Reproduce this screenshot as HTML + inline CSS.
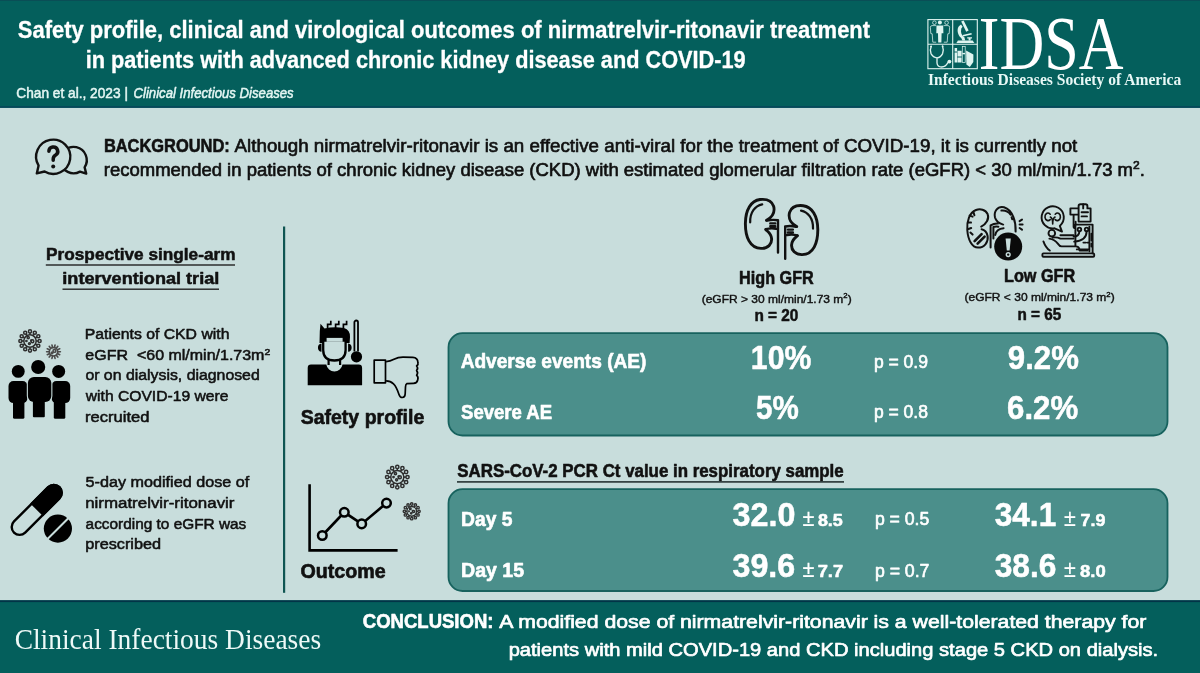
<!DOCTYPE html>
<html><head><meta charset="utf-8"><title>Nirmatrelvir-ritonavir in CKD</title>
<style>html,body{margin:0;padding:0;background:#c8dddc;overflow:hidden}svg{display:block;will-change:transform}</style></head>
<body><svg width="1200" height="673" viewBox="0 0 1200 673">
<rect x="0" y="0" width="1200" height="673" fill="#c8dddc"/>
<rect x="0" y="0" width="1200" height="107.8" fill="#045f5c"/>
<rect x="0" y="0" width="1200" height="1" fill="#0a4e56"/>
<rect x="0" y="106.1" width="1200" height="1.7" fill="#07485a"/>
<rect x="0" y="600.3" width="1200" height="73" fill="#045f5c"/>
<rect x="0" y="600.3" width="1200" height="1.8" fill="#023447"/>
<rect x="283" y="226.5" width="2.2" height="366.3" fill="#0f5552"/>
<rect x="448.5" y="333.2" width="719" height="102.3" rx="14" fill="#4b8f8b" stroke="#17625e" stroke-width="1.8"/>
<rect x="448.5" y="489.2" width="719" height="101.8" rx="14" fill="#4b8f8b" stroke="#17625e" stroke-width="1.8"/>
<text x="17.82" y="38.45" textLength="852.30" lengthAdjust="spacingAndGlyphs" style="font-family:'Liberation Sans', sans-serif;font-weight:bold;font-style:normal;font-size:23.40px;fill:#ffffff;stroke:#ffffff;stroke-width:0.30px;stroke-linejoin:round;white-space:pre" >Safety profile, clinical and virological outcomes of nirmatrelvir-ritonavir treatment</text>

<text x="85.63" y="68.45" textLength="660.02" lengthAdjust="spacingAndGlyphs" style="font-family:'Liberation Sans', sans-serif;font-weight:bold;font-style:normal;font-size:23.40px;fill:#ffffff;stroke:#ffffff;stroke-width:0.30px;stroke-linejoin:round;white-space:pre" >in patients with advanced chronic kidney disease and COVID-19</text>

<text x="16.26" y="97.64" textLength="111.71" lengthAdjust="spacingAndGlyphs" style="font-family:'Liberation Sans', sans-serif;font-weight:normal;font-style:normal;font-size:14.37px;fill:#e4f6f3;stroke:#e4f6f3;stroke-width:0.51px;stroke-linejoin:round;white-space:pre" >Chan et al., 2023 |</text>

<text x="133.53" y="97.64" textLength="160.18" lengthAdjust="spacingAndGlyphs" style="font-family:'Liberation Sans', sans-serif;font-weight:normal;font-style:italic;font-size:14.37px;fill:#e4f6f3;stroke:#e4f6f3;stroke-width:0.51px;stroke-linejoin:round;white-space:pre" >Clinical Infectious Diseases</text>

<text x="978.76" y="69.10" textLength="144.69" lengthAdjust="spacingAndGlyphs" style="font-family:'Liberation Serif', serif;font-weight:normal;font-style:normal;font-size:75.75px;fill:#ffffff;white-space:pre" >IDSA</text>

<text x="927.98" y="84.80" textLength="253.26" lengthAdjust="spacingAndGlyphs" style="font-family:'Liberation Serif', serif;font-weight:bold;font-style:normal;font-size:15.88px;fill:#e8f8f6;white-space:pre" >Infectious Diseases Society of America</text>

<text x="103.88" y="152.42" textLength="125.93" lengthAdjust="spacingAndGlyphs" style="font-family:'Liberation Sans', sans-serif;font-weight:bold;font-style:normal;font-size:17.65px;fill:#111111;stroke:#111111;stroke-width:0.55px;stroke-linejoin:round;white-space:pre" >BACKGROUND:</text>

<text x="234.58" y="152.39" textLength="842.75" lengthAdjust="spacingAndGlyphs" style="font-family:'Liberation Sans', sans-serif;font-weight:normal;font-style:normal;font-size:17.55px;fill:#111111;stroke:#111111;stroke-width:0.63px;stroke-linejoin:round;white-space:pre" >Although nirmatrelvir-ritonavir is an effective anti-viral for the treatment of COVID-19, it is currently not</text>

<text x="103.79" y="176.39" textLength="1041.09" lengthAdjust="spacingAndGlyphs" style="font-family:'Liberation Sans', sans-serif;font-weight:normal;font-style:normal;font-size:17.55px;fill:#111111;stroke:#111111;stroke-width:0.63px;stroke-linejoin:round;white-space:pre" >recommended in patients of chronic kidney disease (CKD) with estimated glomerular filtration rate (eGFR) &lt; 30 ml/min/1.73 m<tspan dy="-7.00" style="font-size:11.41px">2</tspan><tspan dy="7.00">.</tspan></text>

<text x="46.12" y="260.13" textLength="189.37" lengthAdjust="spacingAndGlyphs" style="font-family:'Liberation Sans', sans-serif;font-weight:bold;font-style:normal;font-size:17.38px;fill:#111111;stroke:#111111;stroke-width:0.55px;stroke-linejoin:round;white-space:pre" >Prospective single-arm</text>

<text x="62.31" y="284.43" textLength="157.00" lengthAdjust="spacingAndGlyphs" style="font-family:'Liberation Sans', sans-serif;font-weight:bold;font-style:normal;font-size:17.38px;fill:#111111;stroke:#111111;stroke-width:0.55px;stroke-linejoin:round;white-space:pre" >interventional trial</text>

<rect x="45.8" y="264.3" width="189.2" height="1.4" fill="#222"/>
<rect x="62.5" y="288.5" width="156.5" height="1.4" fill="#222"/>
<text x="84.78" y="338.63" textLength="144.68" lengthAdjust="spacingAndGlyphs" style="font-family:'Liberation Sans', sans-serif;font-weight:normal;font-style:normal;font-size:15.06px;fill:#111111;stroke:#111111;stroke-width:0.54px;stroke-linejoin:round;white-space:pre" >Patients of CKD with</text>

<text x="85.39" y="359.53" textLength="184.86" lengthAdjust="spacingAndGlyphs" style="font-family:'Liberation Sans', sans-serif;font-weight:normal;font-style:normal;font-size:15.06px;fill:#111111;stroke:#111111;stroke-width:0.54px;stroke-linejoin:round;white-space:pre" >eGFR  &lt;60 ml/min/1.73m<tspan dy="-5.00" style="font-size:9.79px">2</tspan></text>

<text x="85.40" y="380.43" textLength="174.35" lengthAdjust="spacingAndGlyphs" style="font-family:'Liberation Sans', sans-serif;font-weight:normal;font-style:normal;font-size:15.06px;fill:#111111;stroke:#111111;stroke-width:0.54px;stroke-linejoin:round;white-space:pre" >or on dialysis, diagnosed</text>

<text x="85.79" y="401.23" textLength="142.63" lengthAdjust="spacingAndGlyphs" style="font-family:'Liberation Sans', sans-serif;font-weight:normal;font-style:normal;font-size:15.06px;fill:#111111;stroke:#111111;stroke-width:0.54px;stroke-linejoin:round;white-space:pre" >with COVID-19 were</text>

<text x="85.07" y="422.03" textLength="64.43" lengthAdjust="spacingAndGlyphs" style="font-family:'Liberation Sans', sans-serif;font-weight:normal;font-style:normal;font-size:15.06px;fill:#111111;stroke:#111111;stroke-width:0.54px;stroke-linejoin:round;white-space:pre" >recruited</text>

<text x="85.62" y="487.13" textLength="163.59" lengthAdjust="spacingAndGlyphs" style="font-family:'Liberation Sans', sans-serif;font-weight:normal;font-style:normal;font-size:15.06px;fill:#111111;stroke:#111111;stroke-width:0.54px;stroke-linejoin:round;white-space:pre" >5-day modified dose of</text>

<text x="85.15" y="507.83" textLength="149.36" lengthAdjust="spacingAndGlyphs" style="font-family:'Liberation Sans', sans-serif;font-weight:normal;font-style:normal;font-size:15.06px;fill:#111111;stroke:#111111;stroke-width:0.54px;stroke-linejoin:round;white-space:pre" >nirmatrelvir-ritonavir</text>

<text x="85.62" y="528.63" textLength="160.67" lengthAdjust="spacingAndGlyphs" style="font-family:'Liberation Sans', sans-serif;font-weight:normal;font-style:normal;font-size:15.06px;fill:#111111;stroke:#111111;stroke-width:0.54px;stroke-linejoin:round;white-space:pre" >according to eGFR was</text>

<text x="85.22" y="549.43" textLength="75.86" lengthAdjust="spacingAndGlyphs" style="font-family:'Liberation Sans', sans-serif;font-weight:normal;font-style:normal;font-size:15.06px;fill:#111111;stroke:#111111;stroke-width:0.54px;stroke-linejoin:round;white-space:pre" >prescribed</text>

<text x="300.66" y="423.98" textLength="123.59" lengthAdjust="spacingAndGlyphs" style="font-family:'Liberation Sans', sans-serif;font-weight:bold;font-style:normal;font-size:20.43px;fill:#111111;stroke:#111111;stroke-width:0.64px;stroke-linejoin:round;white-space:pre" >Safety profile</text>

<text x="300.51" y="578.18" textLength="85.24" lengthAdjust="spacingAndGlyphs" style="font-family:'Liberation Sans', sans-serif;font-weight:bold;font-style:normal;font-size:20.43px;fill:#111111;stroke:#111111;stroke-width:0.64px;stroke-linejoin:round;white-space:pre" >Outcome</text>

<text x="739.10" y="283.62" textLength="74.65" lengthAdjust="spacingAndGlyphs" style="font-family:'Liberation Sans', sans-serif;font-weight:bold;font-style:normal;font-size:17.93px;fill:#111111;stroke:#111111;stroke-width:0.56px;stroke-linejoin:round;white-space:pre" >High GFR</text>

<text x="1003.99" y="282.02" textLength="71.26" lengthAdjust="spacingAndGlyphs" style="font-family:'Liberation Sans', sans-serif;font-weight:bold;font-style:normal;font-size:17.93px;fill:#111111;stroke:#111111;stroke-width:0.56px;stroke-linejoin:round;white-space:pre" >Low GFR</text>

<text x="701.66" y="302.89" textLength="150.07" lengthAdjust="spacingAndGlyphs" style="font-family:'Liberation Sans', sans-serif;font-weight:normal;font-style:normal;font-size:11.61px;fill:#111111;stroke:#111111;stroke-width:0.42px;stroke-linejoin:round;white-space:pre" >(eGFR &gt; 30 ml/min/1.73 m<tspan dy="-4.50" style="font-size:7.54px">2</tspan><tspan dy="4.50">)</tspan></text>

<text x="964.46" y="301.29" textLength="150.28" lengthAdjust="spacingAndGlyphs" style="font-family:'Liberation Sans', sans-serif;font-weight:normal;font-style:normal;font-size:11.61px;fill:#111111;stroke:#111111;stroke-width:0.42px;stroke-linejoin:round;white-space:pre" >(eGFR &lt; 30 ml/min/1.73 m<tspan dy="-4.50" style="font-size:7.54px">2</tspan><tspan dy="4.50">)</tspan></text>

<text x="754.44" y="321.35" textLength="43.94" lengthAdjust="spacingAndGlyphs" style="font-family:'Liberation Sans', sans-serif;font-weight:bold;font-style:normal;font-size:15.85px;fill:#111111;stroke:#111111;stroke-width:0.50px;stroke-linejoin:round;white-space:pre" >n = 20</text>

<text x="1017.44" y="319.85" textLength="43.74" lengthAdjust="spacingAndGlyphs" style="font-family:'Liberation Sans', sans-serif;font-weight:bold;font-style:normal;font-size:15.85px;fill:#111111;stroke:#111111;stroke-width:0.50px;stroke-linejoin:round;white-space:pre" >n = 65</text>

<text x="460.64" y="368.19" textLength="185.80" lengthAdjust="spacingAndGlyphs" style="font-family:'Liberation Sans', sans-serif;font-weight:bold;font-style:normal;font-size:19.88px;fill:#ffffff;stroke:#ffffff;stroke-width:0.62px;stroke-linejoin:round;white-space:pre" >Adverse events (AE)</text>

<text x="461.08" y="419.09" textLength="91.03" lengthAdjust="spacingAndGlyphs" style="font-family:'Liberation Sans', sans-serif;font-weight:bold;font-style:normal;font-size:19.88px;fill:#ffffff;stroke:#ffffff;stroke-width:0.62px;stroke-linejoin:round;white-space:pre" >Severe AE</text>

<text x="750.85" y="368.55" textLength="60.50" lengthAdjust="spacingAndGlyphs" style="font-family:'Liberation Sans', sans-serif;font-weight:bold;font-style:normal;font-size:32.56px;fill:#ffffff;stroke:#ffffff;stroke-width:0.50px;stroke-linejoin:round;white-space:pre" >10%</text>

<text x="756.04" y="419.15" textLength="42.79" lengthAdjust="spacingAndGlyphs" style="font-family:'Liberation Sans', sans-serif;font-weight:bold;font-style:normal;font-size:32.56px;fill:#ffffff;stroke:#ffffff;stroke-width:0.50px;stroke-linejoin:round;white-space:pre" >5%</text>

<text x="1007.87" y="368.55" textLength="71.00" lengthAdjust="spacingAndGlyphs" style="font-family:'Liberation Sans', sans-serif;font-weight:bold;font-style:normal;font-size:32.56px;fill:#ffffff;stroke:#ffffff;stroke-width:0.50px;stroke-linejoin:round;white-space:pre" >9.2%</text>

<text x="1007.11" y="419.35" textLength="71.06" lengthAdjust="spacingAndGlyphs" style="font-family:'Liberation Sans', sans-serif;font-weight:bold;font-style:normal;font-size:32.56px;fill:#ffffff;stroke:#ffffff;stroke-width:0.50px;stroke-linejoin:round;white-space:pre" >6.2%</text>

<text x="873.89" y="368.38" textLength="54.12" lengthAdjust="spacingAndGlyphs" style="font-family:'Liberation Sans', sans-serif;font-weight:normal;font-style:normal;font-size:17.96px;fill:#ffffff;stroke:#ffffff;stroke-width:0.64px;stroke-linejoin:round;white-space:pre" >p = 0.9</text>

<text x="873.89" y="418.48" textLength="54.05" lengthAdjust="spacingAndGlyphs" style="font-family:'Liberation Sans', sans-serif;font-weight:normal;font-style:normal;font-size:17.96px;fill:#ffffff;stroke:#ffffff;stroke-width:0.64px;stroke-linejoin:round;white-space:pre" >p = 0.8</text>

<text x="457.30" y="477.32" textLength="386.39" lengthAdjust="spacingAndGlyphs" style="font-family:'Liberation Sans', sans-serif;font-weight:bold;font-style:normal;font-size:18.07px;fill:#111111;stroke:#111111;stroke-width:0.57px;stroke-linejoin:round;white-space:pre" >SARS-CoV-2 PCR Ct value in respiratory sample</text>

<rect x="457" y="481.1" width="387" height="1.6" fill="#263333"/>
<text x="461.02" y="525.79" textLength="51.40" lengthAdjust="spacingAndGlyphs" style="font-family:'Liberation Sans', sans-serif;font-weight:bold;font-style:normal;font-size:19.88px;fill:#ffffff;stroke:#ffffff;stroke-width:0.62px;stroke-linejoin:round;white-space:pre" >Day 5</text>

<text x="461.00" y="577.09" textLength="63.13" lengthAdjust="spacingAndGlyphs" style="font-family:'Liberation Sans', sans-serif;font-weight:bold;font-style:normal;font-size:19.88px;fill:#ffffff;stroke:#ffffff;stroke-width:0.62px;stroke-linejoin:round;white-space:pre" >Day 15</text>

<text x="732.51" y="525.85" textLength="62.87" lengthAdjust="spacingAndGlyphs" style="font-family:'Liberation Sans', sans-serif;font-weight:bold;font-style:normal;font-size:32.56px;fill:#ffffff;stroke:#ffffff;stroke-width:0.50px;stroke-linejoin:round;white-space:pre" >32.0</text>

<text x="732.51" y="577.25" textLength="62.70" lengthAdjust="spacingAndGlyphs" style="font-family:'Liberation Sans', sans-serif;font-weight:bold;font-style:normal;font-size:32.56px;fill:#ffffff;stroke:#ffffff;stroke-width:0.50px;stroke-linejoin:round;white-space:pre" >39.6</text>

<text x="994.72" y="525.85" textLength="61.50" lengthAdjust="spacingAndGlyphs" style="font-family:'Liberation Sans', sans-serif;font-weight:bold;font-style:normal;font-size:32.56px;fill:#ffffff;stroke:#ffffff;stroke-width:0.50px;stroke-linejoin:round;white-space:pre" >34.1</text>

<text x="994.72" y="576.75" textLength="61.78" lengthAdjust="spacingAndGlyphs" style="font-family:'Liberation Sans', sans-serif;font-weight:bold;font-style:normal;font-size:32.56px;fill:#ffffff;stroke:#ffffff;stroke-width:0.50px;stroke-linejoin:round;white-space:pre" >38.6</text>

<text x="802.41" y="525.70" textLength="11.97" lengthAdjust="spacingAndGlyphs" style="font-family:'Liberation Sans', sans-serif;font-weight:normal;font-style:normal;font-size:24.21px;fill:#ffffff;stroke:#ffffff;stroke-width:0.20px;stroke-linejoin:round;white-space:pre" >±</text>

<text x="817.90" y="525.53" textLength="24.93" lengthAdjust="spacingAndGlyphs" style="font-family:'Liberation Sans', sans-serif;font-weight:bold;font-style:normal;font-size:17.24px;fill:#ffffff;stroke:#ffffff;stroke-width:0.54px;stroke-linejoin:round;white-space:pre" >8.5</text>

<text x="802.41" y="577.10" textLength="11.97" lengthAdjust="spacingAndGlyphs" style="font-family:'Liberation Sans', sans-serif;font-weight:normal;font-style:normal;font-size:24.21px;fill:#ffffff;stroke:#ffffff;stroke-width:0.20px;stroke-linejoin:round;white-space:pre" >±</text>

<text x="817.68" y="576.93" textLength="25.45" lengthAdjust="spacingAndGlyphs" style="font-family:'Liberation Sans', sans-serif;font-weight:bold;font-style:normal;font-size:17.24px;fill:#ffffff;stroke:#ffffff;stroke-width:0.54px;stroke-linejoin:round;white-space:pre" >7.7</text>

<text x="1064.12" y="525.70" textLength="11.75" lengthAdjust="spacingAndGlyphs" style="font-family:'Liberation Sans', sans-serif;font-weight:normal;font-style:normal;font-size:24.21px;fill:#ffffff;stroke:#ffffff;stroke-width:0.20px;stroke-linejoin:round;white-space:pre" >±</text>

<text x="1080.50" y="525.53" textLength="24.89" lengthAdjust="spacingAndGlyphs" style="font-family:'Liberation Sans', sans-serif;font-weight:bold;font-style:normal;font-size:17.24px;fill:#ffffff;stroke:#ffffff;stroke-width:0.54px;stroke-linejoin:round;white-space:pre" >7.9</text>

<text x="1064.12" y="576.90" textLength="11.75" lengthAdjust="spacingAndGlyphs" style="font-family:'Liberation Sans', sans-serif;font-weight:normal;font-style:normal;font-size:24.21px;fill:#ffffff;stroke:#ffffff;stroke-width:0.20px;stroke-linejoin:round;white-space:pre" >±</text>

<text x="1079.98" y="576.73" textLength="25.70" lengthAdjust="spacingAndGlyphs" style="font-family:'Liberation Sans', sans-serif;font-weight:bold;font-style:normal;font-size:17.24px;fill:#ffffff;stroke:#ffffff;stroke-width:0.54px;stroke-linejoin:round;white-space:pre" >8.0</text>

<text x="874.88" y="525.28" textLength="54.44" lengthAdjust="spacingAndGlyphs" style="font-family:'Liberation Sans', sans-serif;font-weight:normal;font-style:normal;font-size:17.96px;fill:#ffffff;stroke:#ffffff;stroke-width:0.64px;stroke-linejoin:round;white-space:pre" >p = 0.5</text>

<text x="874.88" y="576.58" textLength="54.59" lengthAdjust="spacingAndGlyphs" style="font-family:'Liberation Sans', sans-serif;font-weight:normal;font-style:normal;font-size:17.96px;fill:#ffffff;stroke:#ffffff;stroke-width:0.64px;stroke-linejoin:round;white-space:pre" >p = 0.7</text>

<text x="14.67" y="649.00" textLength="306.52" lengthAdjust="spacingAndGlyphs" style="font-family:'Liberation Serif', serif;font-weight:normal;font-style:normal;font-size:28.86px;fill:#eef9f7;white-space:pre" >Clinical Infectious Diseases</text>

<text x="362.84" y="628.45" textLength="130.63" lengthAdjust="spacingAndGlyphs" style="font-family:'Liberation Sans', sans-serif;font-weight:bold;font-style:normal;font-size:19.32px;fill:#ffffff;stroke:#ffffff;stroke-width:0.61px;stroke-linejoin:round;white-space:pre" >CONCLUSION:</text>

<text x="499.30" y="628.41" textLength="647.11" lengthAdjust="spacingAndGlyphs" style="font-family:'Liberation Sans', sans-serif;font-weight:normal;font-style:normal;font-size:19.21px;fill:#ffffff;stroke:#ffffff;stroke-width:0.69px;stroke-linejoin:round;white-space:pre" >A modified dose of nirmatrelvir-ritonavir is a well-tolerated therapy for</text>

<text x="508.65" y="655.96" textLength="649.55" lengthAdjust="spacingAndGlyphs" style="font-family:'Liberation Sans', sans-serif;font-weight:normal;font-style:normal;font-size:19.21px;fill:#ffffff;stroke:#ffffff;stroke-width:0.69px;stroke-linejoin:round;white-space:pre" >patients with mild COVID-19 and CKD including stage 5 CKD on dialysis.</text>

<g fill="none" stroke="#111" stroke-width="2.4" stroke-linejoin="round" stroke-linecap="round">
<path d="M84.6 167.3 A13.2 13.2 0 1 0 80.0 171.6 L86.2 173.6 Z" fill="#c8dddc"/>
<path d="M38.6 165.6 A17.1 17.1 0 1 1 44.6 171.5 L36.8 173.4 Z" fill="#c8dddc"/>
<path d="M48.9 151.3 A4.4 4.4 0 1 1 55.4 155.2 Q53.2 156.6 53.2 159.2 V160.3" stroke-width="3.5"/>
</g><circle cx="53.2" cy="166.4" r="2" fill="#111"/>
<g fill="none" stroke="#2e2e2e" stroke-width="1.50"><circle cx="30.00" cy="341.00" r="6.19"/><line x1="36.19" y1="341.00" x2="38.06" y2="341.00"/><circle cx="39.60" cy="341.00" r="1.55"/><line x1="35.36" y1="344.09" x2="36.98" y2="345.03"/><circle cx="38.32" cy="345.80" r="1.55"/><line x1="33.09" y1="346.36" x2="34.03" y2="347.98"/><circle cx="34.80" cy="349.32" r="1.55"/><line x1="30.00" y1="347.19" x2="30.00" y2="349.06"/><circle cx="30.00" cy="350.60" r="1.55"/><line x1="26.91" y1="346.36" x2="25.97" y2="347.98"/><circle cx="25.20" cy="349.32" r="1.55"/><line x1="24.64" y1="344.09" x2="23.02" y2="345.03"/><circle cx="21.68" cy="345.80" r="1.55"/><line x1="23.81" y1="341.00" x2="21.94" y2="341.00"/><circle cx="20.40" cy="341.00" r="1.55"/><line x1="24.64" y1="337.91" x2="23.02" y2="336.97"/><circle cx="21.68" cy="336.20" r="1.55"/><line x1="26.91" y1="335.64" x2="25.97" y2="334.02"/><circle cx="25.20" cy="332.68" r="1.55"/><line x1="30.00" y1="334.81" x2="30.00" y2="332.94"/><circle cx="30.00" cy="331.40" r="1.55"/><line x1="33.09" y1="335.64" x2="34.03" y2="334.02"/><circle cx="34.80" cy="332.68" r="1.55"/><line x1="35.36" y1="337.91" x2="36.98" y2="336.97"/><circle cx="38.32" cy="336.20" r="1.55"/><circle cx="28.21" cy="337.67" r="1.07"/><circle cx="32.38" cy="341.24" r="1.43"/><circle cx="29.41" cy="343.62" r="0.95"/><circle cx="26.43" cy="341.00" r="0.60"/><circle cx="31.19" cy="340.40" r="0.48"/></g>
<g fill="none" stroke="#4a4a4a" stroke-width="1.60" stroke-linecap="round"><circle cx="53.50" cy="351.70" r="4.24"/><line x1="57.73" y1="351.70" x2="60.40" y2="351.70"/><line x1="57.32" y1="353.54" x2="59.72" y2="354.69"/><line x1="56.14" y1="355.01" x2="57.80" y2="357.09"/><line x1="54.44" y1="355.83" x2="55.04" y2="358.43"/><line x1="52.56" y1="355.83" x2="51.96" y2="358.43"/><line x1="50.86" y1="355.01" x2="49.20" y2="357.09"/><line x1="49.68" y1="353.54" x2="47.28" y2="354.69"/><line x1="49.27" y1="351.70" x2="46.60" y2="351.70"/><line x1="49.68" y1="349.86" x2="47.28" y2="348.71"/><line x1="50.86" y1="348.39" x2="49.20" y2="346.31"/><line x1="52.56" y1="347.57" x2="51.96" y2="344.97"/><line x1="54.44" y1="347.57" x2="55.04" y2="344.97"/><line x1="56.14" y1="348.39" x2="57.80" y2="346.31"/><line x1="57.32" y1="349.86" x2="59.72" y2="348.71"/><circle cx="54.42" cy="350.93" r="1.39"/><circle cx="52.11" cy="352.85" r="0.77"/></g>
<g fill="#000">
<circle cx="18.25" cy="371.4" r="6.45"/><circle cx="58.65" cy="371.4" r="6.5"/>
<rect x="8.5" y="381.1" width="19" height="22" rx="5"/><rect x="13" y="395" width="11.4" height="23.7" rx="1.5"/>
<rect x="51.5" y="381.1" width="18.7" height="22" rx="5"/><rect x="53.8" y="395" width="11.5" height="23.7" rx="1.5"/>
<g stroke="#c8dddc" stroke-width="2.2"><rect x="27.9" y="377.1" width="23.4" height="24.9" rx="6"/></g>
<rect x="27.9" y="377.1" width="23.4" height="24.9" rx="6"/>
<rect x="32.9" y="396" width="11.9" height="21.3" rx="1"/>
<circle cx="38.2" cy="367" r="7.05"/>
</g>
<g transform="translate(36.7,509.9) rotate(-45)">
<rect x="-32.1" y="-7.9" width="64.2" height="15.8" rx="7.9" fill="none" stroke="#000" stroke-width="2.4"/>
<path d="M0 -9.1 H24.2 A9.1 9.1 0 0 1 24.2 9.1 H0 Z" fill="#000"/>
</g>
<circle cx="57.9" cy="528.6" r="14.1" fill="#000"/>
<line x1="47.0" y1="539.5" x2="68.8" y2="517.7" stroke="#c8dddc" stroke-width="2"/>
<g>
<path d="M307.7 368 Q307.7 364.6 311 364.6 H326.3 A8.2 8.2 0 0 0 342.5 364.6 H358.8 Q362.1 364.6 362.1 368 V385.2 H307.7 Z" fill="#000"/>
<path d="M328.6 359 V365 M340.1 359 V365" stroke="#000" stroke-width="2.2" fill="none"/>
<path d="M323.2 340 V350 Q323.2 360.5 334.4 360.5 Q345.6 360.5 345.6 350 V340" fill="none" stroke="#000" stroke-width="2.3"/>
<path d="M321.5 343.5 A4.2 4.2 0 0 0 321.5 351.8 Z M348.1 343.5 A4.2 4.2 0 0 1 348.1 351.8 Z" fill="#000"/>
<path d="M319.5 343 L319.8 331 L320.5 323.8 L324.5 328.5 Q334 326.5 344 328 Q350.3 330 350 337 L349.6 343 L346 343 L345.8 341.8 H323.2 V343 Z" fill="#000"/>
<rect x="326.6" y="337.9" width="16" height="3.9" fill="#c8dddc"/>
<path d="M327.6 328.2 V324.3 H330.8 V320.8 M335.6 328.2 V324.3 H338.8 V320.8 M343.4 328.2 V324.3 H346.6 V320.8" fill="none" stroke="#000" stroke-width="1.7"/>
<path d="M354.4 351.5 V322.3 A1.8 1.8 0 0 1 358.0 322.3 V351.5" fill="none" stroke="#000" stroke-width="1.8"/>
<circle cx="356.5" cy="356.8" r="5.6" fill="#000"/>
</g>
<g fill="none" stroke="#000" stroke-width="1.7" stroke-linejoin="round">
<rect x="374.2" y="360.1" width="11.3" height="22.7" fill="#c8dddc"/>
<path d="M386.1 361.6 Q390 361.5 394 359.3 Q398 357.2 403 357.2 L412.8 357.3 Q417.8 357.6 417.9 362.5 Q418.6 364.5 416.6 366 Q418.6 368 416.6 370.6 Q418.6 372.8 416.6 375.2 Q418.7 377 417.7 380 Q417 383.2 413.5 383.3 L407 383.6 Q405.6 384.3 405.5 386.8 L405.2 393.6 Q405 397.4 402.3 397.5 Q400 397.5 399 394.4 Q396.4 386.5 393.5 383.8 Q390.5 380.9 386.1 380.9"/>
</g>
<g fill="none" stroke="#000" stroke-width="2.6" stroke-linecap="round">
<path d="M309.6 484.2 V550.4 H397.6" stroke-linecap="butt"/>
<path d="M322.3 535.5 L344.3 512.3 L361.7 523.9 L386.5 503.1"/>
</g>
<g fill="#c8dddc" stroke="#000" stroke-width="2.5">
<circle cx="322.3" cy="535.5" r="4.3"/><circle cx="344.3" cy="512.3" r="4.3"/><circle cx="361.7" cy="523.9" r="4.3"/><circle cx="386.5" cy="503.1" r="4.3"/>
</g>
<g fill="none" stroke="#2e2e2e" stroke-width="1.50"><circle cx="397.30" cy="477.10" r="6.55"/><line x1="403.85" y1="477.10" x2="405.87" y2="477.10"/><circle cx="407.51" cy="477.10" r="1.64"/><line x1="402.97" y1="480.38" x2="404.73" y2="481.39"/><circle cx="406.14" cy="482.21" r="1.64"/><line x1="400.58" y1="482.77" x2="401.59" y2="484.53"/><circle cx="402.41" cy="485.94" r="1.64"/><line x1="397.30" y1="483.65" x2="397.30" y2="485.67"/><circle cx="397.30" cy="487.31" r="1.64"/><line x1="394.02" y1="482.77" x2="393.01" y2="484.53"/><circle cx="392.19" cy="485.94" r="1.64"/><line x1="391.63" y1="480.38" x2="389.87" y2="481.39"/><circle cx="388.46" cy="482.21" r="1.64"/><line x1="390.75" y1="477.10" x2="388.73" y2="477.10"/><circle cx="387.09" cy="477.10" r="1.64"/><line x1="391.63" y1="473.82" x2="389.87" y2="472.81"/><circle cx="388.46" cy="471.99" r="1.64"/><line x1="394.02" y1="471.43" x2="393.01" y2="469.67"/><circle cx="392.19" cy="468.26" r="1.64"/><line x1="397.30" y1="470.55" x2="397.30" y2="468.53"/><circle cx="397.30" cy="466.89" r="1.64"/><line x1="400.58" y1="471.43" x2="401.59" y2="469.67"/><circle cx="402.41" cy="468.26" r="1.64"/><line x1="402.97" y1="473.82" x2="404.73" y2="472.81"/><circle cx="406.14" cy="471.99" r="1.64"/><circle cx="395.41" cy="473.57" r="1.13"/><circle cx="399.82" cy="477.35" r="1.51"/><circle cx="396.67" cy="479.87" r="1.01"/><circle cx="393.52" cy="477.10" r="0.63"/><circle cx="398.56" cy="476.47" r="0.50"/></g>
<g fill="none" stroke="#2e2e2e" stroke-width="1.35"><circle cx="411.70" cy="511.30" r="4.78"/><line x1="416.48" y1="511.30" x2="417.83" y2="511.30"/><circle cx="419.03" cy="511.30" r="1.20"/><line x1="415.84" y1="513.69" x2="417.01" y2="514.37"/><circle cx="418.05" cy="514.96" r="1.20"/><line x1="414.09" y1="515.44" x2="414.77" y2="516.61"/><circle cx="415.36" cy="517.65" r="1.20"/><line x1="411.70" y1="516.08" x2="411.70" y2="517.43"/><circle cx="411.70" cy="518.63" r="1.20"/><line x1="409.31" y1="515.44" x2="408.63" y2="516.61"/><circle cx="408.04" cy="517.65" r="1.20"/><line x1="407.56" y1="513.69" x2="406.39" y2="514.37"/><circle cx="405.35" cy="514.96" r="1.20"/><line x1="406.92" y1="511.30" x2="405.57" y2="511.30"/><circle cx="404.37" cy="511.30" r="1.20"/><line x1="407.56" y1="508.91" x2="406.39" y2="508.23"/><circle cx="405.35" cy="507.64" r="1.20"/><line x1="409.31" y1="507.16" x2="408.63" y2="505.99"/><circle cx="408.04" cy="504.95" r="1.20"/><line x1="411.70" y1="506.52" x2="411.70" y2="505.17"/><circle cx="411.70" cy="503.97" r="1.20"/><line x1="414.09" y1="507.16" x2="414.77" y2="505.99"/><circle cx="415.36" cy="504.95" r="1.20"/><line x1="415.84" y1="508.91" x2="417.01" y2="508.23"/><circle cx="418.05" cy="507.64" r="1.20"/><circle cx="410.32" cy="508.72" r="0.83"/><circle cx="413.54" cy="511.48" r="1.10"/><circle cx="411.24" cy="513.32" r="0.74"/><circle cx="408.94" cy="511.30" r="0.46"/><circle cx="412.62" cy="510.84" r="0.37"/></g>
<g fill="none" stroke="#111" stroke-width="2.9" stroke-linecap="round" stroke-linejoin="round"><path d="M766.5 220.3 C771 218, 775.5 213, 773.6 206.2 C771.6 200.2, 765.5 198.9, 760 199.5 C751 200.6, 745.6 210, 745.4 223 C745.2 237, 750 248.3, 761 248.4 C768 248.6, 772 244, 771.6 238.6 C771.2 233.6, 767.8 231.5, 765.8 229.6"/>
<path d="M767.2 220.6 Q772.5 219.3 778 220.3 M765.8 229.2 Q771 227.8 776 228.8 M770.3 223.4 H775.2 M770.3 226.2 H775.2 M778 220.3 V252.6" stroke-width="2.4"/>
<path d="M750.2 222.4 C749.8 212.5, 755 205.8, 762.2 204.4" stroke-width="2.2"/></g>
<g fill="none" stroke="#111" stroke-width="2.9" stroke-linecap="round" stroke-linejoin="round" transform="translate(1563.2,6.2) scale(-1,1)"><path d="M766.5 220.3 C771 218, 775.5 213, 773.6 206.2 C771.6 200.2, 765.5 198.9, 760 199.5 C751 200.6, 745.6 210, 745.4 223 C745.2 237, 750 248.3, 761 248.4 C768 248.6, 772 244, 771.6 238.6 C771.2 233.6, 767.8 231.5, 765.8 229.6"/>
<path d="M767.2 220.6 Q772.5 219.3 778 220.3 M765.8 229.2 Q771 227.8 776 228.8 M770.3 223.4 H775.2 M770.3 226.2 H775.2 M778 220.3 V252.6" stroke-width="2.4"/>
<path d="M750.2 222.4 C749.8 212.5, 755 205.8, 762.2 204.4" stroke-width="2.2"/></g>
<g fill="none" stroke="#111" stroke-width="2" stroke-linecap="round" stroke-linejoin="round">
<path d="M981.2 226.6 C986 224.2, 989.6 219, 987.6 214 C985.6 209.4, 980 208.4, 976 210 C969.5 212.6, 966.6 221, 967.3 230 C968 240, 972 247.6, 978 247.6 C984.5 247.6, 988.6 242, 987.6 236 C986.8 231.5, 983.6 229.6, 981.6 229.2"/>
<path d="M1015.6 231.6 C1016 222, 1013 210, 1004 207.2 C997.4 205.6, 993.6 212, 995 217.6 C996 221.2, 999 223.6, 1003.2 224.6 M1003.6 228.2 C999 228.6, 996 231, 995.2 235"/>
<path d="M990.6 225.4 V247.6 M993.4 227 V238.6 M990.6 225.4 Q994 223.4 997.8 223.6 M993.4 227 Q996 226.2 998.4 226.8"/>
<path d="M1001.4 210.6 Q1007.4 210 1010.6 214.6 M1011.6 217.2 L1012.2 219.2"/>
<path d="M1019.6 221.2 L1022 219.6 M1019.6 224.6 H1022.6 M1019.6 228 L1022 229.6"/>
<path d="M969.6 215.6 L972.6 216.6 M968.2 222.4 L971 222.6 M968.4 229 L971.2 228 M970.4 232.6 L972.6 234.6 M973.6 212.6 L974.4 215.2"/>
<path d="M974.6 241.2 L981.6 234.2 M977.6 243.6 L984.6 236.6" stroke-width="2.6"/>
</g>
<circle cx="1008.2" cy="246.6" r="14" fill="#0a0a0a"/>
<path d="M1005.6 238.4 H1010.8 L1009.6 250.4 H1006.8 Z" fill="#c8dddc"/>
<circle cx="1008.2" cy="254.6" r="1.9" fill="none" stroke="#c8dddc" stroke-width="1.4"/>
<g fill="none" stroke="#111" stroke-width="1.9" stroke-linecap="round" stroke-linejoin="round">
<path d="M1054.6 228.3 A11.1 11.1 0 1 1 1059.8 225.9 L1062 231.6 Z"/>
<path d="M1050.2 214.2 C1047.6 211.6, 1044.6 213.8, 1045 217.4 C1045.4 220.6, 1048.4 221.4, 1050.2 219.6 M1055.2 214.2 C1057.8 211.6, 1060.8 213.8, 1060.4 217.4 C1060 220.6, 1057 221.4, 1055.2 219.6 M1050.4 217 Q1052.7 218 1052.7 224 M1055 217 Q1052.7 218 1052.7 224" stroke-width="1.6"/>
<circle cx="1051.8" cy="233.2" r="3.3"/>
<path d="M1049.4 238.6 Q1054.6 239.4 1057.6 243.4 Q1059.6 246.4 1061.6 246.4 M1043.4 241.4 Q1045.6 247.6 1049.8 250.6 M1052.6 237.6 Q1056.8 236.8 1060.4 238.6 L1073.6 238.6 M1060.4 235.2 H1073.6 M1061.6 246.4 H1075.8 Q1078.6 246.4 1079.2 248.6 L1079.6 250.6 H1087.6"/>
<path d="M1070.4 208.4 H1078.6 V206 Q1078.6 204.2 1080.4 204.2 H1085.6 Q1087.4 204.2 1087.4 206 V208.4 H1090.6 V221.6 H1078.6 V208.4 M1070.4 208.4 V214.6 H1078.6 M1081.6 212.2 H1088 M1081.6 216.4 H1087 M1073.6 214.6 V226.4 Q1073.6 228.2 1075.4 228.2 M1075.4 224.6 H1092.6 V253.4 M1075.4 224.6 V245.6"/>
<path d="M1079.4 231.4 Q1079.2 236.4 1073.6 236.6 M1086.6 231.4 Q1086.6 240.6 1074.2 241.6 M1083.4 242.6 H1085.6 M1087.2 242.6 H1089.2 M1091.4 233.6 V240.6 M1091.4 243.6 V246.6"/>
<circle cx="1079.4" cy="229.4" r="1.8"/><circle cx="1086.6" cy="229.4" r="1.8"/>
<rect x="1042.4" y="253.4" width="51.8" height="3.4" rx="1"/>
<path d="M1089.4 226.6 V251.4 M1076.8 249.4 H1089.4 M1083.2 204.2 V208.4 M1075.6 221.6 V224.6"/>
</g>
<g fill="none" stroke="#dff4f0" stroke-width="1.1">
<rect x="927.9" y="19.6" width="49.4" height="49.1"/>
<path d="M952.7 19.6 V68.7 M927.9 44.3 H977.3"/>
</g>
<g fill="none" stroke="#dff4f0" stroke-width="0.75">
<circle cx="934.4" cy="22.7" r="1.8"/><circle cx="946.6" cy="22.7" r="1.8"/>
<path d="M936.2 25.6 H932 Q930.4 25.6 930.4 27.4 L930.8 33.6 L932.2 33.8 L932.8 42.2 H936.2 M943.6 25.6 H948 Q949.6 25.6 949.6 27.4 L949.2 33.6 L947.8 33.8 L947.2 42.2 H943.8"/>
<path d="M931.2 46.4 Q929.6 50 931 53.6 Q933 57.4 937 57.8 Q940.8 57.4 942.6 53.6 Q944 50 942.6 46.4 M937 57.8 V63 Q937.4 67 941.6 67 Q945.8 66.8 947.6 63 L948.6 61.8" stroke-width="1.35" stroke-linecap="round"/>
</g>
<g fill="#dff4f0">
<circle cx="939.9" cy="22.5" r="2"/>
<path d="M936.5 25.4 H943.2 L943.4 33.2 H941.6 L941.4 42.4 H938.2 L938 33.2 H936.3 Z"/>
<circle cx="949.4" cy="61.6" r="1.9"/>
<circle cx="931" cy="46.4" r="0.9"/><circle cx="942.6" cy="46.2" r="0.9"/>
<path d="M956.4 43.1 H974.3 L972.7 40.4 H957.9 Z"/>
<path d="M961 24.6 Q957.4 26.6 957.6 31 Q958 35.6 961.2 38 L962.4 40.4 H965.2 L964.4 37.2 Q961.2 35.2 961 31.4 Q960.8 28.2 962.6 26.8 Z"/>
<path d="M961.2 21.6 L963.6 20.4 L968.6 30.6 L966.2 31.8 Z"/>
<path d="M962.6 35 L971.4 33 L971.8 34.4 L963 36.4 Z"/>
<path d="M967.2 37.2 H972 V38.4 H970.6 V40.4 H968.6 V38.4 H967.2 Z"/>
<path d="M954.6 48 H957.1 V51.4 H954.6 Z M954.6 52.6 H957.1 V62.4 H954.6 Z M957.5 50.7 H961.6 V56.4 H957.5 Z M957.5 57.6 H961.6 V62.4 H957.5 Z"/>
<path d="M962.3 52.9 H965 V54.3 H962.3 Z"/>
<path d="M966.1 50.6 L973.4 54.4 L973.3 61.9 L969.8 66.9 L966.4 64.6 Z"/>
</g>
<rect x="962.3" y="46.4" width="2.9" height="16" fill="none" stroke="#dff4f0" stroke-width="0.7"/>
</svg></body></html>
